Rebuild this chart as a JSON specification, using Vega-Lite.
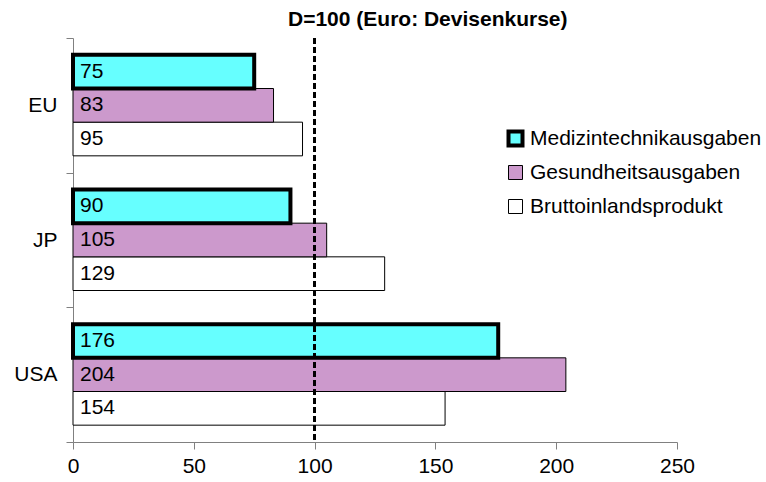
{
  "$schema": "https://vega.github.io/schema/vega-lite/v6.json",
  "width": 604,
  "height": 404,
  "autosize": {"type": "none"},
  "padding": {"left": 73, "top": 38, "right": 89, "bottom": 40},
  "background": "white",
  "config": {"view": {"stroke": null}, "font": "Liberation Sans"},
  "title": {
    "text": "D=100 (Euro: Devisenkurse)",
    "anchor": "start",
    "frame": "group",
    "dx": 215,
    "dy": 30,
    "offset": 10,
    "baseline": "alphabetic",
    "fontSize": 21,
    "fontWeight": "bold",
    "font": "Liberation Sans",
    "color": "black"
  },
  "data": {
    "values": [
      {"country": "EU", "series": "Bruttoinlandsprodukt", "value": 95},
      {"country": "JP", "series": "Bruttoinlandsprodukt", "value": 129},
      {"country": "USA", "series": "Bruttoinlandsprodukt", "value": 154},
      {"country": "EU", "series": "Gesundheitsausgaben", "value": 83},
      {"country": "JP", "series": "Gesundheitsausgaben", "value": 105},
      {"country": "USA", "series": "Gesundheitsausgaben", "value": 204},
      {"country": "EU", "series": "Medizintechnikausgaben", "value": 75},
      {"country": "JP", "series": "Medizintechnikausgaben", "value": 90},
      {"country": "USA", "series": "Medizintechnikausgaben", "value": 176}
    ]
  },
  "layer": [
    {
      "mark": {"type": "bar", "stroke": "black"},
      "encoding": {
        "y": {
          "field": "country",
          "type": "nominal",
          "scale": {"domain": ["EU", "JP", "USA"], "paddingInner": 0, "paddingOuter": 0},
          "axis": {
            "title": null,
            "tickBand": "extent",
            "tickSize": 7,
            "labelPadding": 9,
            "labelFontSize": 21,
            "labelColor": "black",
            "domainColor": "#808080",
            "tickColor": "#808080",
            "grid": false
          }
        },
        "yOffset": {
          "field": "series",
          "type": "nominal",
          "scale": {
            "domain": ["Medizintechnikausgaben", "Gesundheitsausgaben", "Bruttoinlandsprodukt"],
            "paddingInner": 0,
            "paddingOuter": 0.5
          }
        },
        "x": {
          "field": "value",
          "type": "quantitative",
          "stack": null,
          "scale": {"domain": [0, 250], "nice": false},
          "axis": {
            "title": null,
            "values": [0, 50, 100, 150, 200, 250],
            "tickSize": 7,
            "labelPadding": 6,
            "labelFontSize": 21,
            "labelColor": "black",
            "labelFlush": false,
            "domainColor": "#808080",
            "tickColor": "#808080",
            "grid": false
          }
        },
        "fill": {
          "field": "series",
          "type": "nominal",
          "scale": {
            "domain": ["Medizintechnikausgaben", "Gesundheitsausgaben", "Bruttoinlandsprodukt"],
            "range": ["#66FFFF", "#CC99CC", "#FFFFFF"]
          },
          "legend": {
            "title": null,
            "orient": "none",
            "legendX": 432,
            "legendY": 90,
            "padding": 0,
            "gridAlign": "all",
            "symbolType": "square",
            "symbolSize": 196,
            "symbolStrokeColor": "black",
            "symbolStrokeWidth": 1,
            "symbolOpacity": 1,
            "labelFontSize": 21,
            "labelColor": "black",
            "labelOffset": 4,
            "labelLimit": 400,
            "rowPadding": 7,
            "encode": {
              "symbols": {
                "update": {
                  "strokeWidth": {"signal": "datum.value === 'Medizintechnikausgaben' ? 4 : 1"}
                }
              }
            }
          }
        },
        "strokeWidth": {
          "condition": {"test": "datum.series === 'Medizintechnikausgaben'", "value": 4},
          "value": 1
        }
      }
    },
    {
      "mark": {"type": "text", "align": "left", "baseline": "middle", "dx": 7, "fontSize": 21, "color": "black"},
      "encoding": {
        "y": {"field": "country", "type": "nominal"},
        "yOffset": {"field": "series", "type": "nominal"},
        "x": {"datum": 0},
        "text": {"field": "value", "type": "quantitative"}
      }
    },
    {
      "mark": {"type": "rule", "strokeDash": [6, 3], "strokeWidth": 2, "color": "black"},
      "encoding": {"x": {"datum": 100}}
    }
  ]
}
